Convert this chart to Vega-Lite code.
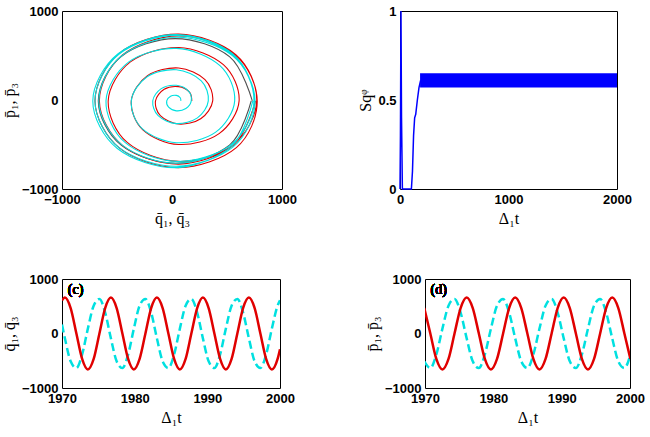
{
  "$schema": "https://vega.github.io/schema/vega-lite/v6.json",
  "background": "white",
  "padding": {"left": 0, "top": 4, "right": 2, "bottom": 2},
  "config": {
    "view": {"stroke": "black", "strokeWidth": 1},
    "axis": {"grid": false, "domain": false, "ticks": false, "labelFlush": false, "labelFont": "Liberation Sans", "labelFontWeight": "bold", "labelFontSize": 13, "labelColor": "black", "titleFont": "Liberation Serif", "titleFontSize": 16, "titleFontWeight": "normal", "titleColor": "black", "labelPadding": 4}
  },
  "datasets": {
    "spiral": [
      {"s":"g","i":0,"x":730,"y":-10},{"s":"g","i":1,"x":525,"y":485},{"s":"g","i":2,"x":30,"y":690},{"s":"g","i":3,"x":-465,"y":485},{"s":"g","i":4,"x":-670,"y":-10},{"s":"g","i":5,"x":-465,"y":-505},{"s":"g","i":6,"x":30,"y":-710},{"s":"g","i":7,"x":525,"y":-505},{"s":"g","i":8,"x":720,"y":-10},
      {"s":"r","i":0,"x":180,"y":-10},{"s":"r","i":1,"x":159,"y":89},{"s":"r","i":2,"x":60,"y":150},{"s":"r","i":3,"x":-71,"y":121},{"s":"r","i":4,"x":-150,"y":-10},{"s":"r","i":5,"x":-106,"y":-176},{"s":"r","i":6,"x":60,"y":-270},{"s":"r","i":7,"x":261,"y":-211},
      {"s":"r","i":8,"x":370,"y":-10},{"s":"r","i":9,"x":300,"y":230},{"s":"r","i":10,"x":60,"y":360},{"s":"r","i":11,"x":-223,"y":273},{"s":"r","i":12,"x":-370,"y":-10},{"s":"r","i":13,"x":-265,"y":-335},{"s":"r","i":14,"x":60,"y":-500},{"s":"r","i":15,"x":428,"y":-378},
      {"s":"r","i":16,"x":610,"y":-10},{"s":"r","i":17,"x":467,"y":397},{"s":"r","i":18,"x":60,"y":590},{"s":"r","i":19,"x":-378,"y":428},{"s":"r","i":20,"x":-580,"y":-10},{"s":"r","i":21,"x":-407,"y":-477},{"s":"r","i":22,"x":60,"y":-690},{"s":"r","i":23,"x":555,"y":-505},
      {"s":"r","i":24,"x":770,"y":-10},{"s":"r","i":25,"x":580,"y":510},{"s":"r","i":26,"x":60,"y":740},{"s":"r","i":27,"x":-477,"y":527},{"s":"r","i":28,"x":-700,"y":-10},{"s":"r","i":29,"x":-474,"y":-544},{"s":"r","i":30,"x":60,"y":-760},{"s":"r","i":31,"x":585,"y":-535},
      {"s":"r","i":32,"x":775,"y":-10},{"s":"r","i":33,"x":575,"y":505},{"s":"r","i":34,"x":60,"y":720},{"s":"r","i":35,"x":-453,"y":503},{"s":"r","i":36,"x":-660,"y":-10},{"s":"r","i":37,"x":-446,"y":-516},{"s":"r","i":38,"x":60,"y":-720},{"s":"r","i":39,"x":558,"y":-508},{"s":"r","i":40,"x":760,"y":-10},
      {"s":"c","i":0,"x":80,"y":-10},{"s":"c","i":1,"x":75,"y":25},{"s":"c","i":2,"x":40,"y":52},{"s":"c","i":3,"x":-13,"y":43},{"s":"c","i":4,"x":-48,"y":-10},{"s":"c","i":5,"x":-31,"y":-81},{"s":"c","i":6,"x":40,"y":-122},{"s":"c","i":7,"x":126,"y":-96},
      {"s":"c","i":8,"x":175,"y":-10},{"s":"c","i":9,"x":150,"y":100},{"s":"c","i":10,"x":40,"y":165},{"s":"c","i":11,"x":-98,"y":128},{"s":"c","i":12,"x":-175,"y":-10},{"s":"c","i":13,"x":-126,"y":-176},{"s":"c","i":14,"x":40,"y":-265},{"s":"c","i":15,"x":231,"y":-201},
      {"s":"c","i":16,"x":330,"y":-10},{"s":"c","i":17,"x":266,"y":216},{"s":"c","i":18,"x":40,"y":340},{"s":"c","i":19,"x":-229,"y":259},{"s":"c","i":20,"x":-370,"y":-10},{"s":"c","i":21,"x":-271,"y":-321},{"s":"c","i":22,"x":40,"y":-480},{"s":"c","i":23,"x":394,"y":-364},
      {"s":"c","i":24,"x":570,"y":-10},{"s":"c","i":25,"x":436,"y":386},{"s":"c","i":26,"x":40,"y":580},{"s":"c","i":27,"x":-395,"y":425},{"s":"c","i":28,"x":-600,"y":-10},{"s":"c","i":29,"x":-427,"y":-477},{"s":"c","i":30,"x":40,"y":-690},{"s":"c","i":31,"x":535,"y":-505},
      {"s":"c","i":32,"x":745,"y":-10},{"s":"c","i":33,"x":553,"y":503},{"s":"c","i":34,"x":40,"y":725},{"s":"c","i":35,"x":-483,"y":513},{"s":"c","i":36,"x":-700,"y":-10},{"s":"c","i":37,"x":-483,"y":-533},{"s":"c","i":38,"x":40,"y":-745},{"s":"c","i":39,"x":556,"y":-526},
      {"s":"c","i":40,"x":755,"y":-10},{"s":"c","i":41,"x":549,"y":499},{"s":"c","i":42,"x":40,"y":705},{"s":"c","i":43,"x":-462,"y":492},{"s":"c","i":44,"x":-665,"y":-10},{"s":"c","i":45,"x":-455,"y":-505},{"s":"c","i":46,"x":40,"y":-710},{"s":"c","i":47,"x":535,"y":-505},
      {"s":"c","i":48,"x":745,"y":-10},{"s":"c","i":49,"x":556,"y":515},{"s":"c","i":50,"x":40,"y":735},{"s":"c","i":51,"x":-490,"y":520},{"s":"c","i":52,"x":-720,"y":-10},{"s":"c","i":53,"x":-497,"y":-545},{"s":"c","i":54,"x":40,"y":-760},{"s":"c","i":55,"x":545,"y":-515},{"s":"c","i":56,"x":735,"y":-10}
    ],
    "sq": [
      {"t":0,"v":0},{"t":4,"v":0.3},{"t":9,"v":1},{"t":14,"v":0.4},{"t":22,"v":0},{"t":105,"v":0},{"t":115,"v":0.1},{"t":125,"v":0.3},{"t":135,"v":0.4},{"t":145,"v":0.42},{"t":160,"v":0.5},{"t":175,"v":0.57},{"t":190,"v":0.61}
    ],
    "band": [{"t":185,"lo":0.57,"hi":0.65},{"t":2000,"lo":0.57,"hi":0.65}],
    "qc": [
      {"t":1970,"r":607,"c":166},{"t":1970.4,"r":660,"c":-89},{"t":1971.19,"r":467,"c":-511},{"t":1971.98,"r":0,"c":-634},{"t":1972.77,"r":-467,"c":-385},{"t":1973.56,"r":-660,"c":89},{"t":1974.36,"r":-467,"c":511},{"t":1975.15,"r":0,"c":634},{"t":1975.94,"r":467,"c":385},
      {"t":1976.73,"r":660,"c":-89},{"t":1977.52,"r":467,"c":-511},{"t":1978.31,"r":0,"c":-634},{"t":1979.1,"r":-467,"c":-385},{"t":1979.89,"r":-660,"c":89},{"t":1980.68,"r":-467,"c":511},{"t":1981.48,"r":0,"c":634},{"t":1982.27,"r":467,"c":385},
      {"t":1983.06,"r":660,"c":-89},{"t":1983.85,"r":467,"c":-511},{"t":1984.64,"r":0,"c":-634},{"t":1985.43,"r":-467,"c":-385},{"t":1986.22,"r":-660,"c":89},{"t":1987.01,"r":-467,"c":511},{"t":1987.8,"r":0,"c":634},{"t":1988.6,"r":467,"c":385},
      {"t":1989.39,"r":660,"c":-89},{"t":1990.18,"r":467,"c":-511},{"t":1990.97,"r":0,"c":-634},{"t":1991.76,"r":-467,"c":-385},{"t":1992.55,"r":-660,"c":89},{"t":1993.34,"r":-467,"c":511},{"t":1994.13,"r":0,"c":634},{"t":1994.92,"r":467,"c":385},
      {"t":1995.72,"r":660,"c":-89},{"t":1996.51,"r":467,"c":-511},{"t":1997.3,"r":0,"c":-634},{"t":1998.09,"r":-467,"c":-385},{"t":1998.88,"r":-660,"c":89},{"t":1999.67,"r":-467,"c":511},{"t":2000,"r":-289,"c":608}
    ],
    "pd": [
      {"t":1969.89,"r":467,"c":-511},{"t":1970.78,"r":0,"c":-634},{"t":1971.66,"r":-467,"c":-385},{"t":1972.55,"r":-660,"c":89},{"t":1973.44,"r":-467,"c":511},{"t":1974.32,"r":0,"c":634},{"t":1975.21,"r":467,"c":385},
      {"t":1976.1,"r":660,"c":-89},{"t":1976.99,"r":467,"c":-511},{"t":1977.88,"r":0,"c":-634},{"t":1978.76,"r":-467,"c":-385},{"t":1979.65,"r":-660,"c":89},{"t":1980.54,"r":-467,"c":511},{"t":1981.43,"r":0,"c":634},{"t":1982.31,"r":467,"c":385},
      {"t":1983.2,"r":660,"c":-89},{"t":1984.09,"r":467,"c":-511},{"t":1984.98,"r":0,"c":-634},{"t":1985.86,"r":-467,"c":-385},{"t":1986.75,"r":-660,"c":89},{"t":1987.64,"r":-467,"c":511},{"t":1988.53,"r":0,"c":634},{"t":1989.41,"r":467,"c":385},
      {"t":1990.3,"r":660,"c":-89},{"t":1991.19,"r":467,"c":-511},{"t":1992.08,"r":0,"c":-634},{"t":1992.96,"r":-467,"c":-385},{"t":1993.85,"r":-660,"c":89},{"t":1994.74,"r":-467,"c":511},{"t":1995.63,"r":0,"c":634},{"t":1996.51,"r":467,"c":385},
      {"t":1997.4,"r":660,"c":-89},{"t":1998.29,"r":467,"c":-511},{"t":1999.18,"r":0,"c":-634},{"t":2000.06,"r":-467,"c":-385}
    ]
  },
  "vconcat": [
    {
      "hconcat": [
        {
          "width": 220, "height": 178,
          "layer": [
            {
              "data": {"name": "spiral"},
              "mark": {"type": "line", "interpolate": "cardinal", "strokeWidth": 1.1},
              "encoding": {
                "x": {"field": "x", "type": "quantitative", "scale": {"domain": [-1000, 1000], "nice": false}, "axis": {"values": [-1000, 0, 1000], "format": "d", "title": "q̄₁, q̄₃"}},
                "y": {"field": "y", "type": "quantitative", "scale": {"domain": [-1000, 1000], "nice": false}, "axis": {"values": [-1000, 0, 1000], "format": "d", "title": "p̄₁, p̄₃"}},
                "color": {"field": "s", "type": "nominal", "scale": {"domain": ["c", "g", "r"], "range": ["#00e0e0", "#505050", "#e00000"]}, "legend": null},
                "order": {"field": "i", "type": "quantitative"}
              }
            },
            {
              "mark": {"type": "text", "align": "left", "baseline": "middle", "font": "Liberation Serif", "fontSize": 14, "fontWeight": "normal"},
              "encoding": {"x": {"datum": -950}, "y": {"datum": 880}, "text": {"value": "(a)"}}
            }
          ]
        },
        {
          "width": 217, "height": 178,
          "layer": [
            {
              "data": {"name": "band"},
              "mark": {"type": "area", "color": "#0000ff", "opacity": 1},
              "encoding": {
                "x": {"field": "t", "type": "quantitative", "scale": {"domain": [0, 2000], "nice": false}, "axis": {"values": [0, 1000, 2000], "title": "Δ₁t", "format": "d"}},
                "y": {"field": "lo", "type": "quantitative", "scale": {"domain": [0, 1], "nice": false}, "axis": {"values": [0, 0.5, 1], "format": "~g", "title": "Sqᵠ"}},
                "y2": {"field": "hi"}
              }
            },
            {
              "data": {"name": "sq"},
              "mark": {"type": "line", "color": "#0000ff", "strokeWidth": 1.5},
              "encoding": {"x": {"field": "t", "type": "quantitative"}, "y": {"field": "v", "type": "quantitative"}}
            },
            {
              "mark": {"type": "text", "align": "left", "baseline": "middle", "font": "Liberation Serif", "fontSize": 14, "fontWeight": "normal"},
              "encoding": {"x": {"datum": 1150}, "y": {"datum": 0.94}, "text": {"value": "(b)"}}
            }
          ]
        }
      ],
      "spacing": 60
    },
    {
      "hconcat": [
        {
          "width": 218, "height": 109,
          "data": {"name": "qc"},
          "layer": [
            {
              "mark": {"type": "line", "interpolate": "monotone", "color": "#00e0e0", "strokeWidth": 2.5, "strokeDash": [8, 4], "clip": true},
              "encoding": {
                "x": {"field": "t", "type": "quantitative", "scale": {"domain": [1970, 2000], "nice": false, "zero": false}, "axis": {"values": [1970, 1980, 1990, 2000], "format": "d", "title": "Δ₁t"}},
                "y": {"field": "c", "type": "quantitative", "scale": {"domain": [-1000, 1000], "nice": false}, "axis": {"values": [-1000, 0, 1000], "format": "d", "title": "q̄₁, q̄₃"}}
              }
            },
            {
              "mark": {"type": "line", "interpolate": "monotone", "color": "#e00000", "strokeWidth": 2.5, "clip": true},
              "encoding": {"x": {"field": "t", "type": "quantitative"}, "y": {"field": "r", "type": "quantitative"}}
            },
            {
              "mark": {"type": "text", "align": "left", "baseline": "middle", "font": "Liberation Serif", "fontSize": 14, "fontWeight": "normal"},
              "encoding": {"x": {"datum": 1970.8}, "y": {"datum": 790}, "text": {"value": "(c)"}}
            }
          ]
        },
        {
          "width": 205, "height": 109,
          "data": {"name": "pd"},
          "layer": [
            {
              "mark": {"type": "line", "interpolate": "monotone", "color": "#00e0e0", "strokeWidth": 2.5, "strokeDash": [8, 4], "clip": true},
              "encoding": {
                "x": {"field": "t", "type": "quantitative", "scale": {"domain": [1970, 2000], "nice": false, "zero": false}, "axis": {"values": [1970, 1980, 1990, 2000], "format": "d", "title": "Δ₁t"}},
                "y": {"field": "c", "type": "quantitative", "scale": {"domain": [-1000, 1000], "nice": false}, "axis": {"values": [-1000, 0, 1000], "format": "d", "title": "p̄₁, p̄₃"}}
              }
            },
            {
              "mark": {"type": "line", "interpolate": "monotone", "color": "#e00000", "strokeWidth": 2.5, "clip": true},
              "encoding": {"x": {"field": "t", "type": "quantitative"}, "y": {"field": "r", "type": "quantitative"}}
            },
            {
              "mark": {"type": "text", "align": "left", "baseline": "middle", "font": "Liberation Serif", "fontSize": 14, "fontWeight": "normal"},
              "encoding": {"x": {"datum": 1970.8}, "y": {"datum": 790}, "text": {"value": "(d)"}}
            }
          ]
        }
      ],
      "spacing": 68
    }
  ],
  "spacing": 45
}
